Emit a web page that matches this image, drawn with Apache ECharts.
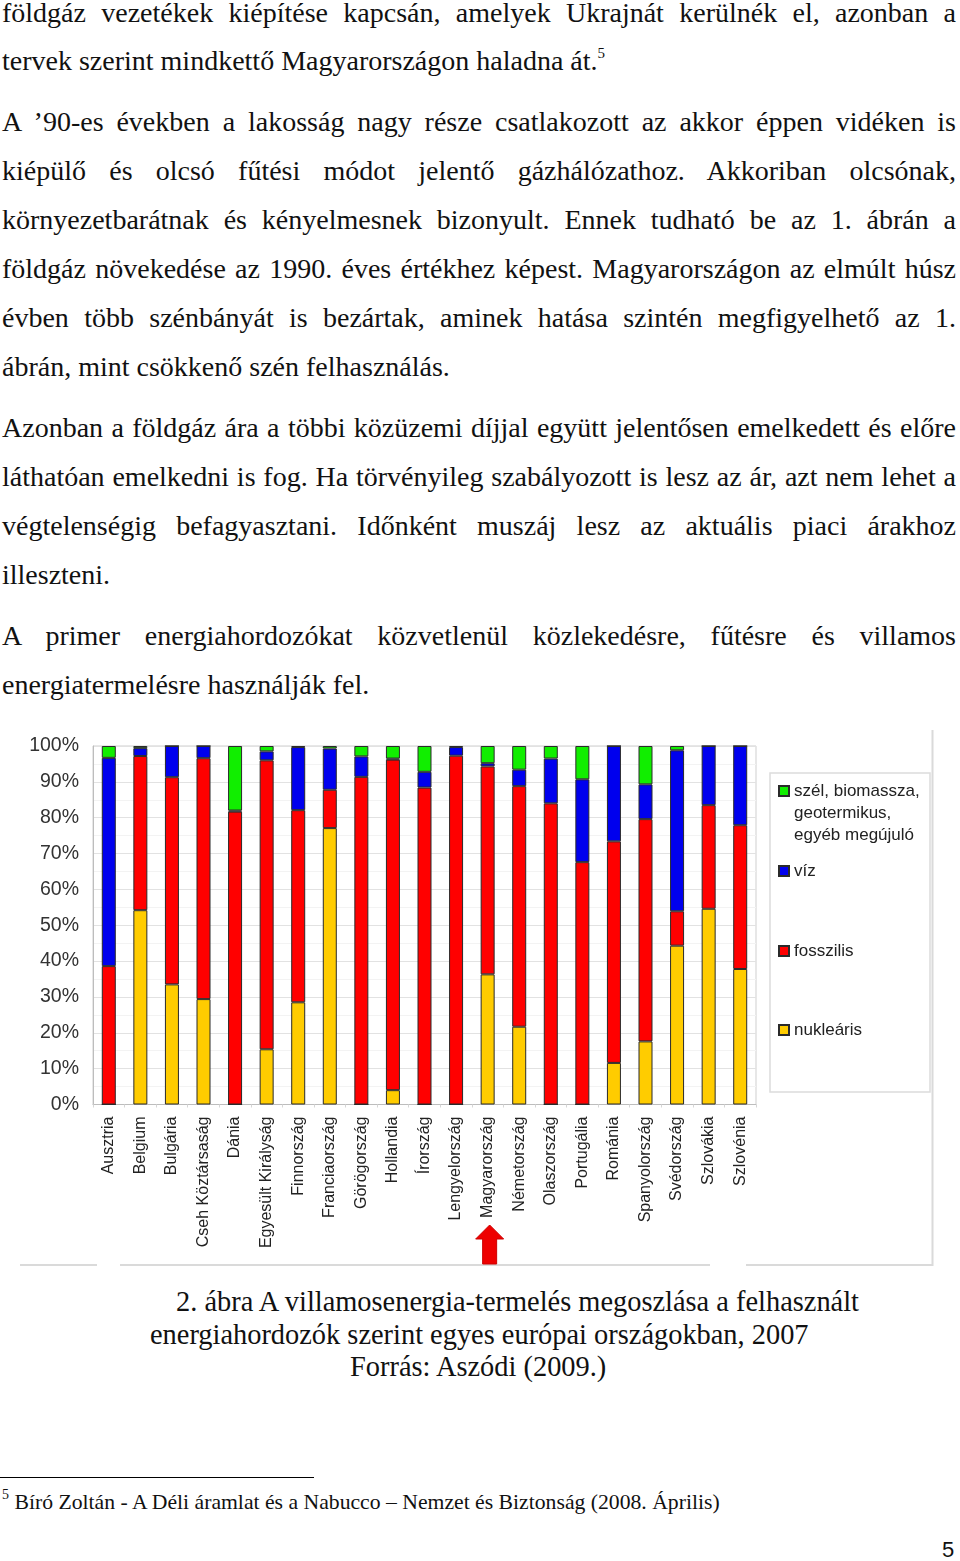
<!DOCTYPE html>
<html>
<head>
<meta charset="utf-8">
<script src="https://cdn.jsdelivr.net/npm/echarts@6/dist/echarts.min.js"></script>
<style>
	body{ margin:0; background:#fff; }
	.page{ position:relative; width:960px; height:1561px; background:#fff; overflow:hidden; color:#111; }
	.ln{ position:absolute; left:2px; width:954px; font-family:"Liberation Serif",serif; font-size:28px; line-height:34px; white-space:nowrap; }
	.j{ text-align:justify; text-align-last:justify; }
	.cap{ position:absolute; font-family:"Liberation Serif",serif; font-size:28.4px; line-height:34px; white-space:nowrap; }
	.fn{ position:absolute; left:2px; top:1490px; font-family:"Liberation Serif",serif; font-size:21.7px; line-height:24px; white-space:nowrap; }
	sup{ font-size:15px; vertical-align:12px; line-height:0; }
	.fn sup{ font-size:14px; vertical-align:10px; }
	.rule{ position:absolute; left:0; top:1477px; width:314px; height:1px; background:#000; }
	.pn{ position:absolute; left:942px; top:1538px; font-family:"Liberation Sans",sans-serif; font-size:22px; line-height:24px; }
	#chart{ position:absolute; left:0; top:725px; width:960px; height:550px; }
</style>
</head>
<body>
<div class="page">
	<div class="ln j" style="top:-4px">földgáz vezetékek kiépítése kapcsán, amelyek Ukrajnát kerülnék el, azonban a</div>
	<div class="ln" style="top:44px">tervek szerint mindkettő Magyarországon haladna át.<sup>5</sup></div>
	<div class="ln j" style="top:105px">A ’90-es években a lakosság nagy része csatlakozott az akkor éppen vidéken is</div>
	<div class="ln j" style="top:154px">kiépülő és olcsó fűtési módot jelentő gázhálózathoz. Akkoriban olcsónak,</div>
	<div class="ln j" style="top:203px">környezetbarátnak és kényelmesnek bizonyult. Ennek tudható be az 1. ábrán a</div>
	<div class="ln j" style="top:252px">földgáz növekedése az 1990. éves értékhez képest. Magyarországon az elmúlt húsz</div>
	<div class="ln j" style="top:301px">évben több szénbányát is bezártak, aminek hatása szintén megfigyelhető az 1.</div>
	<div class="ln" style="top:350px">ábrán, mint csökkenő szén felhasználás.</div>
	<div class="ln j" style="top:411px">Azonban a földgáz ára a többi közüzemi díjjal együtt jelentősen emelkedett és előre</div>
	<div class="ln j" style="top:460px">láthatóan emelkedni is fog. Ha törvényileg szabályozott is lesz az ár, azt nem lehet a</div>
	<div class="ln j" style="top:509px">végtelenségig befagyasztani. Időnként muszáj lesz az aktuális piaci árakhoz</div>
	<div class="ln" style="top:558px">illeszteni.</div>
	<div class="ln j" style="top:619px">A primer energiahordozókat közvetlenül közlekedésre, fűtésre és villamos</div>
	<div class="ln" style="top:668px">energiatermelésre használják fel.</div>

	<div id="chart"></div>

	<div class="cap" style="left:176px;top:1285px">2. ábra A villamosenergia-termelés megoszlása a felhasznált</div>
	<div class="cap" style="left:150px;top:1318px">energiahordozók szerint egyes európai országokban, 2007</div>
	<div class="cap" style="left:350px;top:1350px">Forrás: Aszódi (2009.)</div>

	<div class="rule"></div>
	<div class="fn"><sup>5</sup> Bíró Zoltán - A Déli áramlat és a Nabucco – Nemzet és Biztonság (2008. Április)</div>
	<div class="pn">5</div>
</div>
<script>
	//országok
	var countries=["Ausztria","Belgium","Bulgária","Cseh Köztársaság","Dánia","Egyesült Királyság","Finnország","Franciaország","Görögország","Hollandia","Írország","Lengyelország","Magyarország","Németország","Olaszország","Portugália","Románia","Spanyolország","Svédország","Szlovákia","Szlovénia"];
	//részarányok (%)
	var nuclear=[0,54.2,33.5,29.4,0,15.4,28.5,77.1,0,4.0,0,0,36.3,21.7,0,0,11.6,17.6,44.3,54.6,37.8];
	var fossil=[38.6,43.0,57.8,67.2,81.7,80.6,53.6,10.7,91.4,92.2,88.4,97.3,58.0,67.1,84.0,67.6,61.8,62.0,9.6,28.9,40.1];
	var water=[58.1,2.2,8.7,3.4,0.3,2.5,17.6,11.5,5.7,0.3,4.4,2.4,0.9,4.6,12.5,23.1,26.6,9.7,44.9,16.5,22.1];
	var renew=[3.3,0.6,0,0,18.0,1.5,0.3,0.7,2.9,3.5,7.2,0.3,4.8,6.6,3.5,9.3,0,10.7,1.2,0,0];
	var seriesNames=["nukleáris","fosszilis","víz","szél, biomassza, geotermikus, egyéb megújuló"];
	var seriesColors=["#ffcc00","#ff0000","#0000ee","#11ee00"];
	var highlight="Magyarország";

	var myChart=echarts.init(document.getElementById("chart"));
	var font="Liberation Sans";

	var legendBase=function(name,top,extra){
		var lg={
			data:[name],
			orient:"vertical",
			left:778,
			top:top,
			padding:0,
			itemWidth:10,
			itemHeight:10,
			itemGap:0,
			icon:"rect",
			selectedMode:false,
			textStyle:{fontFamily:font,fontSize:17,color:"#222"}
		};
		if(extra){ Object.assign(lg,extra); }
		return lg;
	};

	var option={
		animation:false,
		grid:{left:93,top:21,width:663,height:358.5,show:true,borderColor:"#cfcfcf",borderWidth:1},
		xAxis:{
			type:"category",
			data:countries,
			axisLine:{lineStyle:{color:"#bdbdbd"}},
			axisTick:{show:true,length:3,lineStyle:{color:"#d6d6d6"}},
			axisLabel:{rotate:90,interval:0,margin:12,fontFamily:font,fontSize:16,color:"#222"}
		},
		yAxis:{
			type:"value",
			min:0,
			max:100,
			interval:10,
			axisLine:{show:true,lineStyle:{color:"#bdbdbd"}},
			axisTick:{show:false},
			axisLabel:{formatter:"{value}%",margin:14,fontFamily:font,fontSize:19.5,color:"#333"},
			splitLine:{lineStyle:{color:"#e2e2e2"}},
			minorTick:{show:false,splitNumber:2},
			minorSplitLine:{show:true,lineStyle:{color:"#f3f3f3"}}
		},
		legend:[
			//két üres sor, hogy az első sor kerüljön az ikon mellé
			legendBase(seriesNames[3],11,{
				formatter:function(){ return "\n\nszél, biomassza,\ngeotermikus,\negyéb megújuló"; },
				textStyle:{fontFamily:font,fontSize:17,color:"#222",lineHeight:22}
			}),
			legendBase(seriesNames[2],137.5),
			legendBase(seriesNames[1],217.5),
			legendBase(seriesNames[0],296.5)
		],
		series:[nuclear,fossil,water,renew].map(function(vals,i){
			return {
				name:seriesNames[i],
				type:"bar",
				stack:"total",
				barWidth:14,
				data:vals,
				itemStyle:{color:seriesColors[i],borderColor:"#2a2a2a",borderWidth:1}
			};
		})
	};
	myChart.setOption(option);

	//nyíl a kiemelt ország alatt
	var cx=myChart.convertToPixel({xAxisIndex:0},highlight)+2;
	myChart.setOption({
		graphic:[
			{type:"rect",shape:{x:770,y:48,width:160,height:319},style:{fill:"none",stroke:"#dcdcdc",lineWidth:1.5},z:-1},
			{type:"line",shape:{x1:932.5,y1:5,x2:932.5,y2:541},style:{stroke:"#dadada",lineWidth:2}},
			{type:"line",shape:{x1:20,y1:540,x2:97,y2:540},style:{stroke:"#dadada",lineWidth:2}},
			{type:"line",shape:{x1:120,y1:540,x2:710,y2:540},style:{stroke:"#dadada",lineWidth:2}},
			{type:"line",shape:{x1:746,y1:540,x2:932,y2:540},style:{stroke:"#dadada",lineWidth:2}},
			{type:"polygon",shape:{points:[[cx,500],[cx+14,514],[cx+7,514],[cx+7,539],[cx-7,539],[cx-7,514],[cx-14,514]]},style:{fill:"#ee0000",stroke:"#cc0000",lineWidth:1}}
		]
	});
</script>
</body>
</html>
